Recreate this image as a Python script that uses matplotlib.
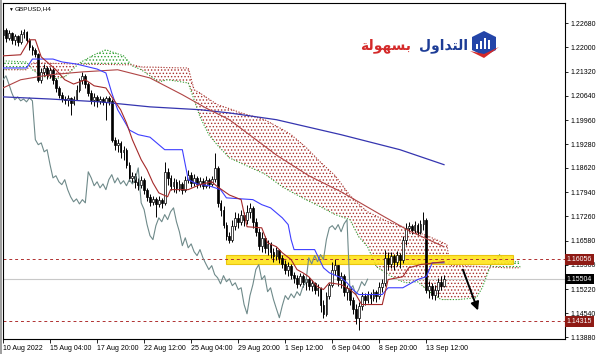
import numpy as np
import matplotlib
matplotlib.use("Agg")
import matplotlib.pyplot as plt
from matplotlib.patches import Rectangle, Polygon

# GBPUSD H4 candles, bar 0 = 10 Aug 2022 (open of first bar, then closes/highs/lows)
open0 = 1.2235
closes = [1.2249, 1.2226, 1.2240, 1.2221, 1.2232, 1.2215, 1.2237, 1.2243, 1.2221, 1.2201,
          1.2193, 1.2181, 1.2109, 1.2131, 1.2142, 1.2123, 1.2137, 1.2109, 1.2086, 1.2067,
          1.2055, 1.2053, 1.2058, 1.2044, 1.2055, 1.2081, 1.2109, 1.2120, 1.2097, 1.2072,
          1.2053, 1.2061, 1.2050, 1.2055, 1.2047, 1.2058, 1.2050, 1.1941, 1.1927, 1.1932,
          1.1907, 1.1913, 1.1871, 1.1834, 1.1840, 1.1823, 1.1815, 1.1829, 1.1801, 1.1781,
          1.1767, 1.1775, 1.1761, 1.1773, 1.1764, 1.1851, 1.1834, 1.1812, 1.1823, 1.1806,
          1.1817, 1.1801, 1.1829, 1.1843, 1.1820, 1.1834, 1.1817, 1.1826, 1.1812, 1.1829,
          1.1817, 1.1831, 1.1862, 1.1764, 1.1745, 1.1703, 1.1672, 1.1661, 1.1700, 1.1722,
          1.1711, 1.1731, 1.1717, 1.1739, 1.1750, 1.1711, 1.1683, 1.1644, 1.1666, 1.1638,
          1.1649, 1.1627, 1.1616, 1.1633, 1.1610, 1.1593, 1.1577, 1.1588, 1.1563, 1.1554,
          1.1537, 1.1560, 1.1543, 1.1551, 1.1532, 1.1540, 1.1521, 1.1526, 1.1479, 1.1453,
          1.1504, 1.1535, 1.1577, 1.1591, 1.1549, 1.1560, 1.1515, 1.1526, 1.1493, 1.1467,
          1.1442, 1.1476, 1.1504, 1.1493, 1.1509, 1.1498, 1.1515, 1.1504, 1.1529, 1.1540,
          1.1610, 1.1593, 1.1616, 1.1599, 1.1619, 1.1605, 1.1661, 1.1694, 1.1700, 1.1689,
          1.1703, 1.1683, 1.1705, 1.1717, 1.1521, 1.1532, 1.1507, 1.1521, 1.1543, 1.1532,
          1.1550]
highs = [1.2277, 1.2254, 1.2249, 1.2243, 1.2237, 1.2235, 1.2249, 1.2251, 1.2246, 1.2226,
         1.2207, 1.2198, 1.2184, 1.2142, 1.2153, 1.2148, 1.2145, 1.2142, 1.2114, 1.2092,
         1.2075, 1.2064, 1.2067, 1.2061, 1.2064, 1.2095, 1.2114, 1.2131, 1.2125, 1.2103,
         1.2081, 1.2072, 1.2067, 1.2064, 1.2061, 1.2064, 1.2064, 1.2055, 1.1949, 1.1943,
         1.1938, 1.1924, 1.1918, 1.1879, 1.1851, 1.1848, 1.1834, 1.1840, 1.1834, 1.1806,
         1.1789, 1.1784, 1.1781, 1.1784, 1.1778, 1.1879, 1.1862, 1.1843, 1.1834, 1.1831,
         1.1829, 1.1823, 1.1840, 1.1857, 1.1851, 1.1845, 1.1840, 1.1837, 1.1834, 1.1840,
         1.1834, 1.1840, 1.1904, 1.1868, 1.1773, 1.1756, 1.1711, 1.1683, 1.1717, 1.1739,
         1.1736, 1.1745, 1.1739, 1.1759, 1.1764, 1.1756, 1.1722, 1.1694, 1.1683, 1.1672,
         1.1661, 1.1655, 1.1638, 1.1641, 1.1635, 1.1619, 1.1605, 1.1599, 1.1593, 1.1571,
         1.1563, 1.1568, 1.1565, 1.1560, 1.1557, 1.1549, 1.1543, 1.1537, 1.1529, 1.1493,
         1.1515, 1.1540, 1.1599, 1.1607, 1.1591, 1.1571, 1.1565, 1.1535, 1.1529, 1.1501,
         1.1481, 1.1487, 1.1515, 1.1512, 1.1518, 1.1515, 1.1523, 1.1521, 1.1543, 1.1551,
         1.1633, 1.1627, 1.1627, 1.1621, 1.1630, 1.1624, 1.1672, 1.1708, 1.1711, 1.1705,
         1.1714, 1.1708, 1.1717, 1.1739, 1.1722, 1.1546, 1.1540, 1.1535, 1.1554, 1.1560,
         1.1563]
lows = [1.2226, 1.2215, 1.2221, 1.2209, 1.2207, 1.2204, 1.2209, 1.2226, 1.2212, 1.2193,
        1.2179, 1.2173, 1.2103, 1.2100, 1.2120, 1.2111, 1.2114, 1.2097, 1.2075, 1.2058,
        1.2047, 1.2041, 1.2036, 1.2011, 1.2039, 1.2053, 1.2075, 1.2097, 1.2086, 1.2064,
        1.2041, 1.2036, 1.2033, 1.2041, 1.2039, 1.1997, 1.2039, 1.1935, 1.1913, 1.1907,
        1.1890, 1.1885, 1.1862, 1.1826, 1.1820, 1.1806, 1.1801, 1.1806, 1.1789, 1.1770,
        1.1756, 1.1759, 1.1725, 1.1753, 1.1750, 1.1759, 1.1815, 1.1801, 1.1795, 1.1792,
        1.1798, 1.1789, 1.1795, 1.1820, 1.1809, 1.1812, 1.1806, 1.1809, 1.1803, 1.1806,
        1.1806, 1.1812, 1.1823, 1.1753, 1.1728, 1.1694, 1.1661, 1.1652, 1.1655, 1.1689,
        1.1694, 1.1703, 1.1700, 1.1705, 1.1722, 1.1694, 1.1672, 1.1633, 1.1627, 1.1624,
        1.1619, 1.1610, 1.1599, 1.1605, 1.1596, 1.1582, 1.1565, 1.1560, 1.1551, 1.1540,
        1.1526, 1.1532, 1.1529, 1.1521, 1.1521, 1.1518, 1.1509, 1.1504, 1.1459, 1.1442,
        1.1448, 1.1495, 1.1529, 1.1563, 1.1532, 1.1526, 1.1504, 1.1493, 1.1479, 1.1453,
        1.1425, 1.1409, 1.1465, 1.1479, 1.1484, 1.1481, 1.1490, 1.1487, 1.1495, 1.1515,
        1.1532, 1.1577, 1.1582, 1.1577, 1.1588, 1.1582, 1.1596, 1.1647, 1.1683, 1.1677,
        1.1680, 1.1675, 1.1677, 1.1689, 1.1512, 1.1498, 1.1495, 1.1493, 1.1501, 1.1521,
        1.1529]

# moving averages (bar, price)
ma_slow_bars = [0, 16, 33, 50, 67, 77, 93, 115, 135, 150]
ma_slow = [1.2061, 1.2055, 1.2047, 1.2033, 1.2025, 1.2016, 1.1997, 1.1955, 1.1913, 1.1871]
ma_mid_bars = [0, 6, 16, 27, 39, 50, 61, 69, 77, 93, 104, 115, 128, 138, 150]
ma_mid = [1.2086, 1.2109, 1.2123, 1.2131, 1.2137, 1.2114, 1.2067, 1.2030, 1.1997, 1.1898,
          1.1840, 1.1795, 1.1733, 1.1686, 1.1641]

# ichimoku lines
kijun_bars = [0, 8, 10, 17, 20, 25, 32, 35, 37, 39, 41, 43, 46, 50, 55, 61, 63, 66, 70, 74,
              76, 85, 88, 91, 95, 97, 98, 99, 106, 109, 111, 115, 117, 119, 121, 129, 131,
              136, 141, 144, 146, 150]
kijun = [1.2142, 1.2142, 1.2167, 1.2167, 1.2159, 1.2153, 1.2139, 1.2128, 1.2072, 1.2025,
         1.1997, 1.1968, 1.1955, 1.1948, 1.1913, 1.1913, 1.1829, 1.1817, 1.1812, 1.1801,
         1.1778, 1.1773, 1.1759, 1.1750, 1.1722, 1.1703, 1.1661, 1.1633, 1.1633, 1.1582,
         1.1568, 1.1554, 1.1540, 1.1521, 1.1507, 1.1507, 1.1526, 1.1526, 1.1549, 1.1557,
         1.1596, 1.1596]
tenkan_bars = [0, 6, 9, 11, 13, 18, 21, 24, 28, 31, 35, 37, 40, 42, 44, 47, 49, 51, 53, 56,
               57, 63, 67, 71, 73, 77, 81, 83, 88, 90, 93, 95, 98, 100, 102, 104, 107, 109,
               111, 115, 118, 120, 122, 129, 131, 136, 138, 142, 150]
tenkan = [1.2176, 1.2179, 1.2221, 1.2221, 1.2173, 1.2137, 1.2109, 1.2097, 1.2109, 1.2092,
          1.2086, 1.2061, 1.2025, 1.1988, 1.1941, 1.1885, 1.1857, 1.1820, 1.1792, 1.1781,
          1.1801, 1.1801, 1.1815, 1.1823, 1.1809, 1.1786, 1.1773, 1.1697, 1.1694, 1.1652,
          1.1641, 1.1624, 1.1605, 1.1577, 1.1568, 1.1557, 1.1529, 1.1521, 1.1540, 1.1535,
          1.1521, 1.1507, 1.1479, 1.1479, 1.1549, 1.1557, 1.1582, 1.1591, 1.1599]

# senkou spans (shifted 26 bars ahead)
cloud_bars = [0, 8, 10, 13, 17, 21, 26, 31, 35, 41, 44, 47, 53, 56, 63, 65, 67, 70, 73, 77,
              81, 89, 95, 98, 103, 108, 113, 118, 121, 124, 127, 131, 134, 137, 141, 145,
              149, 151, 152, 155, 161, 163, 166, 169, 171, 176]
span_a = [1.2162, 1.2159, 1.2137, 1.2120, 1.2111, 1.2117, 1.2156, 1.2179, 1.2193, 1.2176,
          1.2148, 1.2137, 1.2103, 1.2109, 1.2100, 1.2053, 1.2005, 1.1955, 1.1925, 1.1890,
          1.1875, 1.1845, 1.1809, 1.1795, 1.1773, 1.1753, 1.1731, 1.1717, 1.1669, 1.1641,
          1.1585, 1.1563, 1.1549, 1.1540, 1.1543, 1.1515, 1.1493, 1.1493, 1.1493, 1.1493,
          1.1498, 1.1526, 1.1591, 1.1619, 1.1599, 1.1599]
span_b = [1.2137, 1.2137, 1.2156, 1.2156, 1.2155, 1.2154, 1.2153, 1.2152, 1.2152, 1.2151,
          1.2151, 1.2145, 1.2144, 1.2143, 1.2142, 1.2081, 1.2072, 1.2055, 1.2039, 1.2028,
          1.2016, 1.1997, 1.1970, 1.1955, 1.1920, 1.1878, 1.1840, 1.1785, 1.1760, 1.1739,
          1.1727, 1.1711, 1.1702, 1.1694, 1.1682, 1.1669, 1.1655, 1.1647, 1.1588, 1.1588,
          1.1586, 1.1585, 1.1584, 1.1583, 1.1582, 1.1582]

levels = [1.16056, 1.14315]
bid = 1.15504
zone = (76, 173.5, 1.15926, 1.16192)   # yellow box: bar from/to, price low/high
arrow_from = (156.1, 1.1584)
arrow_to = (161.9, 1.1455)

tick_bars = [0, 16, 32, 48, 64, 80, 96, 112, 128, 144]
tick_labels = ["10 Aug 2022", "15 Aug 04:00", "17 Aug 20:00", "22 Aug 12:00", "25 Aug 04:00",
               "29 Aug 20:00", "1 Sep 12:00", "6 Sep 04:00", "8 Sep 20:00", "13 Sep 12:00"]
price_ticks = [1.22680, 1.22000, 1.21320, 1.20640, 1.19960, 1.19280, 1.18620, 1.17940,
               1.17260, 1.16580, 1.15900, 1.15220, 1.14540, 1.13880]

plt.rcParams['font.family'] = ['Liberation Sans', 'DejaVu Sans']
plt.rcParams['hatch.linewidth'] = 0.6

W, H = 600, 354
fig = plt.figure(figsize=(W / 100, H / 100), dpi=100, facecolor='white')
ax = fig.add_axes([3 / W, 15 / H, 562 / W, 336 / H])
ax.set_facecolor('white')

def px(x, y):
    return (x / W, 1 - y / H)

c = np.array(closes)
o = np.array([open0] + closes[:-1])
h = np.maximum(np.array(highs), np.maximum(o, c))
l = np.minimum(np.array(lows), np.minimum(o, c))
x = np.arange(len(c))

# cloud
cb = np.array(cloud_bars)
sa = np.array(span_a)
sb = np.array(span_b)
green = '#2f9e2f'
brown = '#a8322d'
ax.fill_between(cb, sa, sb, where=sa >= sb, interpolate=True, facecolor='none',
                edgecolor=green, hatch='.....', linewidth=0, zorder=1)
ax.fill_between(cb, sa, sb, where=sa < sb, interpolate=True, facecolor='none',
                edgecolor=brown, hatch='.....', linewidth=0, zorder=1)
ax.plot(cb, sa, color=green, lw=0.8, ls=(0, (1, 1.5)), zorder=1.2)
ax.plot(cb, sb, color=brown, lw=0.8, ls=(0, (1, 1.5)), zorder=1.2)

# yellow zone
ax.add_patch(Rectangle((zone[0], zone[2]), zone[1] - zone[0], zone[3] - zone[2],
                       facecolor='#ffe41a', edgecolor='#e8c000', lw=0.8, alpha=0.9, zorder=1.5))

# horizontal levels
for lv in levels:
    ax.axhline(lv, color='#b03030', lw=0.7, ls=(0, (3, 3)), zorder=1.6)
ax.axhline(bid, color='#c8c8c8', lw=0.8, zorder=1.6)

# candles
ax.vlines(x, l, h, color='black', lw=0.7, zorder=2)
faces = np.where(c >= o, 'white', 'black')
ax.bar(x, np.maximum(np.abs(c - o), 0.00004), bottom=np.minimum(o, c), width=0.6,
       color=faces, edgecolor='black', linewidth=0.5, zorder=2.1)

# indicator lines
ax.plot(x[:-26], c[26:], color='#6f8a8a', lw=0.8, zorder=3)
ax.plot(ma_slow_bars, ma_slow, color='#3535b0', lw=0.9, zorder=3)
ax.plot(ma_mid_bars, ma_mid, color='#b04545', lw=0.8, zorder=3)
ax.plot(kijun_bars, kijun, color='#3f3fff', lw=0.8, zorder=3)
ax.plot(tenkan_bars, tenkan, color='#a52a2a', lw=0.8, zorder=3)

ax.annotate('', xy=arrow_to, xytext=arrow_from,
            arrowprops=dict(arrowstyle='-|>', color='black', lw=1.4, mutation_scale=12),
            zorder=4)

ax.set_xlim(0, 562 / 2.94)
ax.set_ylim(1.13824, 1.23241)

ax.set_xticks(tick_bars)
ax.set_xticklabels(tick_labels, ha='left', fontsize=5)
ax.yaxis.tick_right()
ax.set_yticks(price_ticks)
ax.set_yticklabels(['%.5f' % p for p in price_ticks], fontsize=5)
ax.tick_params(axis='x', length=3, width=0.6, pad=1)
ax.tick_params(axis='y', length=2.5, width=0.6, pad=1.5)
for s in ax.spines.values():
    s.set_linewidth(0.8)

# price labels on the axis
tr = ax.get_yaxis_transform()
for val, col in [(levels[0], '#8e1a14'), (bid, 'black'), (levels[1], '#8e1a14')]:
    ax.text(1.003, val, '%.5f' % val, transform=tr, fontsize=5, color='white',
            ha='left', va='center', zorder=5,
            bbox=dict(boxstyle='square,pad=0.25', facecolor=col, edgecolor='none'))

# title
fig.text(*px(8, 9), '\u25bc', fontsize=3.5, va='center', ha='left')
fig.text(*px(15, 9), 'GBPUSD,H4', fontsize=4.6, va='center', ha='left')

# left window border
fig.add_artist(Rectangle((0, 0), 2 / W, 1, transform=fig.transFigure,
                         facecolor='#a0a0a0', edgecolor='none'))

# logo
word_blue = '\ufedd\ufeed\ufe8d\ufeaa\ufe98\ufedf\ufe8d'
word_red = '\ufe94\ufedf\ufeee\ufeec\ufeb4\ufe91'
fig.text(*px(468, 46), word_blue, fontsize=10, fontweight='bold', color='#1d3c96',
         ha='right', va='center', family='DejaVu Sans')
fig.text(*px(411, 46), word_red, fontsize=10, fontweight='bold', color='#d42a2a',
         ha='right', va='center', family='DejaVu Sans')
hexagon = [px(472, 37), px(484, 31), px(496, 37), px(496, 50), px(484, 56), px(472, 50)]
fig.add_artist(Polygon(hexagon, closed=True, transform=fig.transFigure,
                       facecolor='#2445a8', edgecolor='none'))
for bx, top in [(476, 44), (480, 41), (484, 38), (488, 40)]:
    fig.add_artist(Rectangle(px(bx, 49), 2.2 / W, (49 - top) / H, transform=fig.transFigure,
                             facecolor='white', edgecolor='none'))
swoosh = [px(470, 51), px(484, 58), px(499, 47), px(484, 54)]
fig.add_artist(Polygon(swoosh, closed=True, transform=fig.transFigure,
                       facecolor='#d42a2a', edgecolor='none'))

fig.savefig('out.png', dpi=100, facecolor='white')
